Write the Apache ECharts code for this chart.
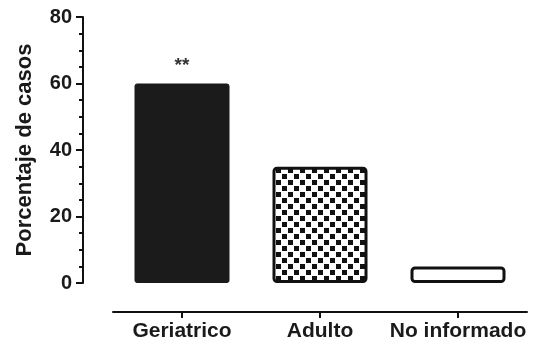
<!DOCTYPE html>
<html>
<head>
<meta charset="utf-8">
<script src="https://cdn.jsdelivr.net/npm/echarts@6/dist/echarts.min.js"></script>
<style>
  html, body { margin: 0; padding: 0; background: #fff; }
  #chart { width: 534px; height: 344px; }
</style>
</head>
<body>
<div id="chart"></div>
<script>
// Age groups and share of cases (%)
const categories = ['Geriatrico', 'Adulto', 'No informado'];
const values = [60, 35, 5];
const significance = ['**', '', ''];
const yTicks = [0, 20, 40, 60, 80];

// Checkerboard fill used for the middle bar
function checkerPattern() {
  const c = document.createElement('canvas');
  const s = 6;
  c.width = 2 * s; c.height = 2 * s;
  const ctx = c.getContext('2d');
  ctx.fillStyle = '#ffffff';
  ctx.fillRect(0, 0, 2 * s, 2 * s);
  ctx.fillStyle = '#111111';
  ctx.fillRect(0, 0, s - 1, s - 1);
  ctx.fillRect(s, s, s - 1, s - 1);
  return c;
}

const barStyles = [
  { color: '#1b1b1b', borderColor: '#1b1b1b', borderWidth: 1, borderRadius: 2 },
  { color: { image: checkerPattern(), repeat: 'repeat' }, borderColor: '#111', borderWidth: 3, borderRadius: 3 },
  { color: '#ffffff', borderColor: '#111', borderWidth: 3, borderRadius: 3 }
];

const font = '"Liberation Sans", Arial, sans-serif';

const chart = echarts.init(document.getElementById('chart'), null, { renderer: 'canvas' });
chart.setOption({
  animation: false,
  backgroundColor: '#ffffff',
  grid: { left: 113, right: 7, top: 17, bottom: 61 },
  xAxis: {
    type: 'category',
    data: categories,
    offset: 29,
    axisLine: { onZero: false, lineStyle: { color: '#111', width: 2 } },
    axisTick: { show: true, alignWithLabel: true, length: 6, lineStyle: { color: '#111', width: 2 } },
    axisLabel: { color: '#1a1a1a', fontFamily: font, fontWeight: 'bold', fontSize: 21, margin: 9, interval: 0 }
  },
  yAxis: {
    type: 'value',
    min: 0,
    max: 80,
    interval: 20,
    offset: 30,
    name: 'Porcentaje de casos',
    nameLocation: 'middle',
    nameGap: 47,
    nameTextStyle: { color: '#1a1a1a', fontFamily: font, fontWeight: 'bold', fontSize: 22 },
    axisLine: { show: true, lineStyle: { color: '#111', width: 2 } },
    axisTick: { show: true, length: 7, lineStyle: { color: '#111', width: 2 } },
    minorTick: { show: true, splitNumber: 4, length: 4, lineStyle: { color: '#111', width: 2 } },
    splitLine: { show: false },
    axisLabel: {
      color: '#1a1a1a', fontFamily: font, fontWeight: 'bold', fontSize: 20, margin: 11,
      formatter: v => (yTicks.includes(v) ? String(v) : '')
    }
  },
  series: [{
    type: 'bar',
    barWidth: 95,
    data: values.map((v, i) => ({
      value: v,
      itemStyle: barStyles[i],
      label: {
        show: significance[i] !== '',
        position: 'top',
        distance: 8,
        formatter: () => significance[i],
        color: '#333',
        fontFamily: font,
        fontWeight: 'bold',
        fontSize: 19
      }
    }))
  }]
});
</script>
</body>
</html>
